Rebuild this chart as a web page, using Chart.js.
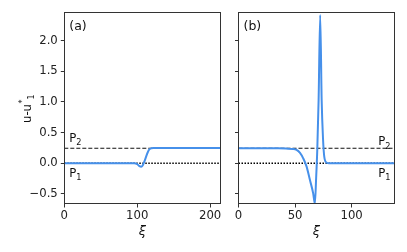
<!DOCTYPE html>
<html>
<head>
<meta charset="utf-8">
<script src="https://cdn.jsdelivr.net/npm/chart.js@4.4.1/dist/chart.umd.min.js"></script>
<style>
  html, body { margin: 0; padding: 0; background: #fff; }
  #wrap { position: relative; width: 407px; height: 252px; }
  canvas { position: absolute; top: 0; }
  #chartA { left: 0; }
  #chartB { left: 228px; }
</style>
</head>
<body>
<div id="wrap">
  <canvas id="chartA" width="228" height="252"></canvas>
  <canvas id="chartB" width="179" height="252"></canvas>
</div>
<script>
// 数据
const xiA = [0, 20, 40, 60, 80, 90, 96, 100, 103, 105.5, 107.5, 109.5, 112, 114.5, 117, 119.5, 122, 140, 180, 214];
const uA  = [0, 0, 0, 0, 0, 0.002, 0, -0.015, -0.045, -0.055, -0.035, 0.02, 0.1, 0.18, 0.23, 0.245, 0.248, 0.248, 0.248, 0.248];

const xiB = [0, 20, 35, 42, 48.3, 51.3, 54.2, 57.2, 60.2, 63.1, 66, 67.5, 68.6, 69.6, 70.8, 72.2, 73.5, 74.7, 75.8, 77.9, 80, 100, 137.7];
const uB  = [0.245, 0.245, 0.244, 0.24, 0.233, 0.217, 0.173, 0.08, -0.055, -0.27, -0.49, -0.66, -0.25, 0.21, 1.03, 2.42, 1.03, 0.4, 0.11, 0.01, 0, 0, 0];

const p1Level = 0;
const p2Level = 0.245;

const yTicks = [-0.5, 0, 0.5, 1.0, 1.5, 2.0];
const xTicksA = [0, 100, 200];
const xTicksB = [0, 50, 100];
const yRange = [-0.664, 2.456];
const xRangeA = [0, 214];
const xRangeB = [0, 137.7];

const FONT = 'DejaVu Sans';
const LINE_COLOR = '#4690ea';
Chart.defaults.font.family = FONT;
Chart.defaults.color = '#222';

function fmt(v) {
  return v.toFixed(1).replace('-', '\u2212');
}

function toPoints(xs, ys) {
  return xs.map((x, i) => ({ x, y: ys[i] }));
}

// 带下标的文字
function drawSub(ctx, main, sub, x, y, size) {
  ctx.font = `${size}px "${FONT}"`;
  ctx.fillText(main, x, y);
  const w = ctx.measureText(main).width;
  ctx.font = `${size * 0.7}px "${FONT}"`;
  ctx.fillText(sub, x + w, y + size * 0.28);
}

// 边框 + 标注
const panelDecor = {
  id: 'panelDecor',
  afterDraw(chart, args, opts) {
    const { ctx, chartArea: a, scales } = chart;
    ctx.save();
    ctx.strokeStyle = '#333';
    ctx.lineWidth = 1;
    ctx.strokeRect(Math.floor(a.left) + 0.5, Math.floor(a.top) + 0.5,
      Math.round(a.right - a.left), Math.round(a.bottom - a.top));

    ctx.fillStyle = '#111';
    ctx.textBaseline = 'alphabetic';
    ctx.textAlign = 'left';
    ctx.font = `12.5px "${FONT}"`;
    ctx.fillText(opts.tag, a.left + 5, 30);

    const y2 = scales.y.getPixelForValue(p2Level);
    const y1 = scales.y.getPixelForValue(p1Level);
    const px = opts.side === 'left' ? a.left + 5 : a.right - 16;
    drawSub(ctx, 'P', '2', px, y2 + opts.p2dy, 11.7);
    drawSub(ctx, 'P', '1', px, y1 + opts.p1dy, 11.7);

    if (opts.ylabel) {
      ctx.translate(31.3, 123);
      ctx.rotate(-Math.PI / 2);
      ctx.font = `11.7px "${FONT}"`;
      ctx.fillText('u-u', 0, 0);
      let w = ctx.measureText('u-u').width;
      ctx.font = `8px "${FONT}"`;
      ctx.fillText('*', w + 0.5, -6);
      w += ctx.measureText('*').width + 0.5;
      ctx.fillText('1', w, 2.5);
    }
    ctx.restore();
  }
};

function makePanel(id, xs, ys, xRange, xTicks, cfg) {
  const ctx = document.getElementById(id).getContext('2d');
  return new Chart(ctx, {
    type: 'line',
    data: {
      datasets: [
        {
          data: toPoints(xs, ys),
          borderColor: LINE_COLOR,
          borderWidth: 2,
          pointRadius: 0,
          cubicInterpolationMode: 'monotone',
        },
        {
          data: [{ x: xRange[0], y: p2Level }, { x: xRange[1], y: p2Level }],
          borderColor: '#111',
          borderWidth: 1.2,
          borderDash: [4, 2],
          pointRadius: 0,
        },
        {
          data: [{ x: xRange[0], y: p1Level }, { x: xRange[1], y: p1Level }],
          borderColor: '#000',
          borderWidth: 1.5,
          borderDash: [1.5, 1.5],
          pointRadius: 0,
        }
      ]
    },
    options: {
      responsive: false,
      animation: false,
      layout: { padding: { left: 0, top: 12.7, right: cfg.padRight, bottom: 0 } },
      plugins: {
        legend: { display: false },
        tooltip: { enabled: false },
        panelDecor: cfg.decor,
      },
      scales: {
        x: {
          type: 'linear',
          min: xRange[0],
          max: xRange[1],
          afterBuildTicks: s => { s.ticks = xTicks.map(v => ({ value: v })); },
          afterFit: s => { s.height = 48; s.paddingLeft = 0; s.paddingRight = 0; },
          ticks: { font: { size: 11.7 }, padding: 1.5, callback: v => String(v), color: '#222' },
          grid: { drawOnChartArea: false, tickLength: 3.5, color: '#333' },
          border: { display: false },
          title: {
            display: true,
            text: 'ξ',
            font: { size: 13, style: 'italic' },
            color: '#111',
            padding: { top: 0, bottom: 13 },
          },
        },
        y: {
          type: 'linear',
          min: yRange[0],
          max: yRange[1],
          afterBuildTicks: s => { s.ticks = yTicks.map(v => ({ value: v })); },
          afterFit: s => { s.width = cfg.yWidth; s.paddingTop = 0; s.paddingBottom = 0; },
          ticks: { font: { size: 11.7 }, padding: 3, callback: v => cfg.yLabels ? fmt(v) : '', color: '#222' },
          grid: { drawOnChartArea: false, tickLength: 3.5, color: '#333' },
          border: { display: false },
        }
      }
    },
    plugins: [panelDecor]
  });
}

// 面板 (a)
makePanel('chartA', xiA, uA, xRangeA, xTicksA, {
  padRight: 7.7,
  yWidth: 64.3,
  yLabels: true,
  decor: { tag: '(a)', side: 'left', p2dy: -6.6, p1dy: 13.4, ylabel: true },
});

// 面板 (b)
makePanel('chartB', xiB, uB, xRangeB, xTicksB, {
  padRight: 12.7,
  yWidth: 10.5,
  yLabels: false,
  decor: { tag: '(b)', side: 'right', p2dy: -2.8, p1dy: 13.7, ylabel: false },
});
</script>
</body>
</html>
